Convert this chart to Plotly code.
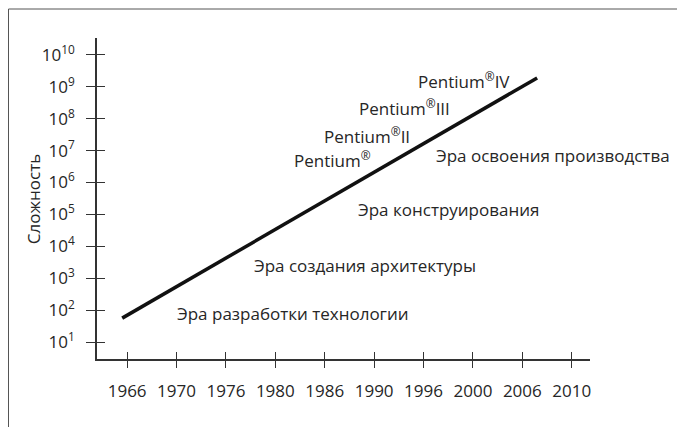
import plotly.graph_objects as go

years = ["1966", "1970", "1976", "1980", "1986", "1990", "1996", "2000", "2006", "2010"]
year_pos = list(range(len(years)))
powers = list(range(1, 11))
y_vals = [10 ** p for p in powers]
y_text = ["10<sup>%d</sup>" % p for p in powers]
y_title = "Сложность"

# trend line (category index, complexity)
line_x = [-0.1, 8.3]
line_y = [56, 1.9e9]

labels = ["Pentium<sup>®</sup>IV", "Pentium<sup>®</sup>III", "Pentium<sup>®</sup>II", "Pentium<sup>®</sup>",
          "Эра освоения производства", "Эра конструирования", "Эра создания архитектуры",
          "Эра разработки технологии"]
label_x = [5.85, 4.66, 3.95, 3.34, 6.21, 4.64, 2.53, 0.97]
label_logy = [9.21, 8.34, 7.46, 6.71, 6.86, 5.14, 3.41, 1.88]

FONT = "Open Sans"
AX = "#333333"
TXT = "#262626"

fig = go.Figure()
fig.add_trace(go.Scatter(x=line_x, y=line_y, mode="lines",
                         line=dict(color="#111111", width=3.5), hoverinfo="skip"))
fig.add_trace(go.Scatter(x=[0], y=[100], xaxis="x2", yaxis="y2", mode="markers",
                         marker=dict(opacity=0), hoverinfo="skip"))

xr = [-0.61, 9.37]
yr = [0.467, 10.53]

fig.update_layout(
    width=677, height=419,
    margin=dict(l=89, r=95, t=30, b=68),
    paper_bgcolor="white", plot_bgcolor="white",
    showlegend=False,
    font=dict(family=FONT, color=TXT, size=17),
    xaxis=dict(range=xr, tickvals=year_pos, ticktext=years, showgrid=False, zeroline=False,
               automargin=False, ticklabelstandoff=9,
               showline=True, linecolor=AX, linewidth=1.5, ticks="outside", ticklen=7,
               tickwidth=1.3, tickcolor=AX, tickfont=dict(size=17, family=FONT, color=TXT)),
    yaxis=dict(type="log", range=yr, tickvals=y_vals, ticktext=y_text, showgrid=False,
               automargin=False, ticklabelstandoff=8,
               zeroline=False, showline=True, linecolor=AX, linewidth=1.5, ticks="outside",
               ticklen=9, tickwidth=1.3, tickcolor=AX, tickfont=dict(size=17, family=FONT, color=TXT)),
    xaxis2=dict(range=xr, overlaying="x", anchor="y", side="bottom", tickvals=year_pos,
                automargin=False,
                showticklabels=False, showgrid=False, zeroline=False, ticks="inside", ticklen=7,
                tickwidth=1.3, tickcolor=AX),
    yaxis2=dict(type="log", range=yr, overlaying="y", anchor="x", side="left", tickvals=y_vals,
                automargin=False,
                showticklabels=False, showgrid=False, zeroline=False, ticks="inside", ticklen=8,
                tickwidth=1.3, tickcolor=AX),
)

for t, x, y in zip(labels, label_x, label_logy):
    fig.add_annotation(x=x, y=y, xref="x", yref="y", text=t, showarrow=False,
                       xanchor="left", yanchor="middle", font=dict(size=17, family=FONT, color=TXT))

fig.add_annotation(x=-0.1298, y=0.498, xref="paper", yref="paper", text=y_title, showarrow=False,
                   textangle=-90, xanchor="center", yanchor="middle",
                   font=dict(size=17, family=FONT, color=TXT))

fig.add_shape(type="rect", xref="paper", yref="paper", x0=-0.1795, x1=1.1826, y0=-0.23, y1=1.0903,
              line=dict(color="#555555", width=1), fillcolor="rgba(0,0,0,0)")

fig.write_html("out.html")
